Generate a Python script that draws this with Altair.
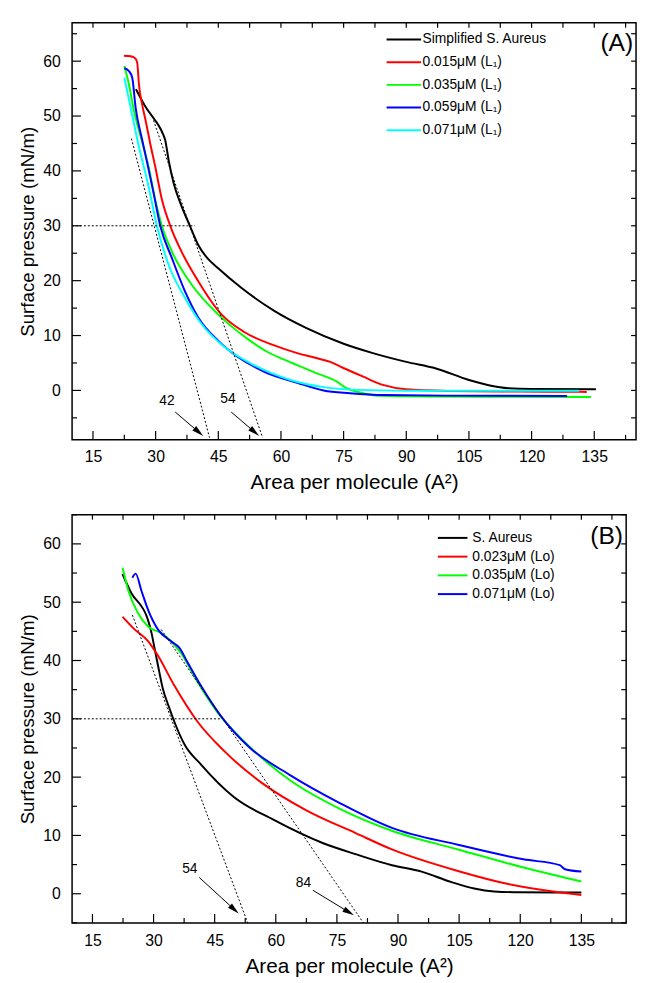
import math
import altair as alt
import pandas as pd

FONT = "Liberation Sans"

# ---------------- Panel A data ----------------
A_labels = ["\u00a0Simplified S. Aureus", "0.015μM (L₁)", "0.035μM (L₁)", "0.059μM (L₁)", "0.071μM (L₁)"]
A_colors = ["#000000", "#ff0000", "#00ff00", "#0000ff", "#00ffff"]

A_black_x = [25.3, 27.5, 29.9, 30.7, 31.6, 32.3, 33.1, 34.3, 36.2, 38.2, 40.2, 42.5, 44.9, 50.5, 58.4, 66.0, 75.0, 82.0, 90.0, 97.1, 105.0, 110.0, 114.4, 120.0, 135.4]
A_black_y = [54.9, 51.8, 49.2, 48.3, 47.0, 45.6, 42.0, 37.8, 33.6, 30.0, 26.5, 24.0, 22.3, 18.7, 14.5, 11.4, 8.5, 6.8, 5.2, 4.0, 1.9, 0.9, 0.4, 0.25, 0.2]

A_red_x = [22.4, 24.0, 24.8, 25.3, 25.6, 26.0, 26.8, 27.6, 28.7, 29.9, 31.5, 33.5, 36.2, 40.2, 45.7, 51.3, 58.4, 63.9, 68.0, 71.8, 75.5, 79.7, 84.4, 90.0, 100.0, 115.0, 131.4, 133.2]
A_red_y = [61.0, 60.9, 60.7, 60.3, 59.7, 55.8, 52.0, 49.2, 45.0, 40.8, 34.8, 30.0, 25.3, 19.9, 13.9, 10.6, 8.2, 6.8, 6.0, 5.2, 3.9, 2.5, 1.0, 0.2, -0.1, -0.2, -0.25, -0.3]

A_green_x = [22.5, 23.6, 24.8, 26.5, 28.3, 29.9, 31.5, 33.9, 38.6, 44.9, 52.0, 56.8, 60.5, 63.9, 68.6, 73.4, 75.7, 78.5, 83.6, 95.0, 110.0, 134.2]
A_green_y = [59.1, 55.8, 51.0, 46.0, 40.8, 34.8, 30.0, 25.3, 19.3, 13.9, 9.4, 7.0, 5.7, 4.6, 3.1, 1.6, 0.4, -0.3, -0.97, -1.1, -1.15, -1.2]

A_blue_x = [22.5, 23.6, 24.4, 25.2, 26.8, 28.0, 29.5, 31.1, 33.9, 37.0, 40.2, 44.9, 49.7, 56.0, 63.9, 70.2, 76.5, 85.0, 100.0, 128.5]
A_blue_y = [58.7, 58.2, 57.0, 51.6, 45.6, 41.4, 36.0, 30.0, 24.1, 18.1, 13.3, 9.1, 6.1, 3.4, 1.4, 0.0, -0.5, -0.85, -0.95, -1.0]

A_cyan_x = [22.5, 24.0, 26.0, 28.3, 30.3, 33.1, 37.0, 41.0, 46.5, 52.8, 62.3, 70.2, 78.1, 90.0, 110.0, 131.4]
A_cyan_y = [57.0, 51.6, 44.4, 37.2, 30.0, 22.9, 16.9, 12.1, 7.9, 4.9, 1.9, 0.6, 0.1, -0.05, -0.07, -0.07]

A_hline = [10, 39.4, 30]                      # x0, x1, y
A_tangents = [[24.2, 45.9, 42.9, -8.6], [29.5, 49.2, 55.6, -8.6]]   # x0, y0, x1, y1
A_arrow_text = ["42", "54"]
A_arrow_text_xy = [[32.7, -2.0], [47.3, -1.6]]
A_arrows = [[34.7, -3.95, 41.4, -8.3], [48.1, -3.95, 54.8, -8.3]]
A_tag = ["(A)", 140.4, 63.3]

# ---------------- Panel B data ----------------
B_labels = ["S. Aureus", "0.023μM (Lo)", "0.035μM (Lo)", "0.071μM (Lo)"]
B_colors = ["#000000", "#ff0000", "#00ff00", "#0000ff"]

B_black_x = [22.4, 24.6, 27.4, 28.2, 29.5, 30.3, 31.1, 32.3, 33.9, 35.1, 37.6, 41.6, 49.7, 59.4, 71.5, 80.0, 88.5, 95.8, 103.1, 108.7, 113.6, 120.0, 135.0]
B_black_y = [54.8, 51.5, 48.9, 47.8, 44.7, 41.9, 39.1, 35.1, 31.8, 29.5, 25.6, 22.2, 16.6, 12.7, 8.7, 6.7, 4.9, 3.8, 2.0, 0.9, 0.4, 0.25, 0.2]

B_red_x = [22.4, 25.4, 28.7, 31.1, 35.1, 40.8, 47.3, 57.0, 67.5, 79.6, 88.5, 104.7, 116.8, 129.0, 135.0]
B_red_y = [47.5, 45.3, 43.3, 40.8, 35.7, 29.5, 24.5, 18.8, 14.3, 10.4, 7.6, 3.9, 1.7, 0.3, -0.2]

B_green_x = [22.4, 23.8, 26.2, 28.7, 31.9, 34.3, 36.7, 40.8, 45.6, 52.1, 63.4, 75.6, 88.5, 104.7, 120.8, 135.0]
B_green_y = [55.9, 52.0, 48.1, 45.8, 44.7, 43.3, 41.3, 36.3, 31.2, 26.2, 19.5, 14.6, 10.8, 7.6, 4.5, 2.1]

B_blue_x = [24.8, 25.6, 27.0, 28.7, 31.1, 34.3, 36.3, 38.4, 41.6, 46.4, 53.7, 63.4, 75.6, 88.5, 104.7, 120.8, 129.7, 131.0, 135.0]
B_blue_y = [54.2, 54.9, 52.0, 48.6, 45.3, 43.3, 42.2, 39.6, 35.7, 30.6, 25.0, 20.4, 15.6, 11.3, 8.4, 5.9, 4.9, 4.2, 3.8]

B_hline = [10, 46.4, 30]
B_tangents = [[24.8, 47.8, 53.1, -5.0], [31.9, 45.3, 81.5, -5.0]]
B_arrow_text = ["54", "84"]
B_arrow_text_xy = [[38.9, 4.2], [66.8, 1.8]]
B_arrows = [[41.2, 2.8, 50.9, -3.4], [69.1, 0.6, 79.2, -3.7]]
B_tag = ["(B)", 141.2, 61.3]

X_MAJOR = [15, 30, 45, 60, 75, 90, 105, 120, 135]
X_MINOR = [22.5, 37.5, 52.5, 67.5, 82.5, 97.5, 112.5, 127.5, 142.5]
Y_MAJOR = [0, 10, 20, 30, 40, 50, 60]
Y_MINOR = [-5, 5, 15, 25, 35, 45, 55, 65]


def panel(xs_list, ys_list, labels, colors, xdom, ydom, W, H, hline, tangents,
          arrow_text, arrow_text_xy, arrows, tag, leg, x_lab_pad):
    rows = []
    for s, (xs, ys) in enumerate(zip(xs_list, ys_list)):
        for i, (x, y) in enumerate(zip(xs, ys)):
            rows.append(dict(x=x, y=y, series=labels[s], i=i))
    df = pd.DataFrame(rows)

    xsc = alt.Scale(domain=xdom, nice=False, zero=False)
    ysc = alt.Scale(domain=ydom, nice=False, zero=False)
    xaxis = alt.Axis(values=X_MAJOR, title="Area per molecule (A²)", ticks=False, domain=False,
                     grid=False, labelFontSize=16, labelPadding=x_lab_pad, titleFontSize=21,
                     titlePadding=7, labelFont=FONT, titleFont=FONT, titleFontWeight="normal",
                     labelColor="black", titleColor="black", labelFlush=False)
    yaxis = alt.Axis(values=Y_MAJOR, title="Surface pressure (mN/m)", ticks=False, domain=False,
                     grid=False, labelFontSize=16, labelPadding=12, titleFontSize=19,
                     titlePadding=5, labelFont=FONT, titleFont=FONT, titleFontWeight="normal",
                     labelColor="black", titleColor="black", labelFlush=False)

    def X(field):
        return alt.X(field, scale=xsc, axis=xaxis)

    def Y(field):
        return alt.Y(field, scale=ysc, axis=yaxis)

    # legend: the row pitch follows the nominal symbol size; the drawn line is
    # longer by the factor k of the custom path
    line_len, nominal, leg_x, leg_y, lab_off = leg
    k = line_len / nominal
    legend = alt.Legend(orient="none", legendX=leg_x, legendY=leg_y, title=None,
                        symbolType=f"M{-k:.4f},0L{k:.4f},0", symbolSize=nominal ** 2,
                        symbolStrokeWidth=2, labelFontSize=14, labelFont=FONT,
                        labelColor="black", rowPadding=0, labelOffset=lab_off,
                        padding=0, labelLimit=400)

    lines = alt.Chart(df).mark_line(strokeWidth=2, interpolate="monotone").encode(
        x=X("x:Q"),
        y=Y("y:Q"),
        color=alt.Color("series:N", scale=alt.Scale(domain=labels, range=colors), legend=legend),
        order=alt.Order("i:Q"),
    )

    layers = []

    def xt(vals, length, top=False):
        d = pd.DataFrame({"x": vals})
        if top:
            enc = dict(y=alt.value(0), y2=alt.value(length))
        else:
            enc = dict(y=alt.value(H), y2=alt.value(H - length))
        return alt.Chart(d).mark_rule(color="black", strokeWidth=1.2).encode(x=X("x:Q"), **enc)

    def yt(vals, length, right=False):
        d = pd.DataFrame({"y": vals})
        if right:
            enc = dict(x=alt.value(W), x2=alt.value(W - length))
        else:
            enc = dict(x=alt.value(0), x2=alt.value(length))
        return alt.Chart(d).mark_rule(color="black", strokeWidth=1.2).encode(y=Y("y:Q"), **enc)

    layers += [xt(X_MAJOR, 9), xt(X_MINOR, 5), xt(X_MAJOR + X_MINOR, 5, top=True),
               yt(Y_MAJOR, 9), yt(Y_MINOR, 5), yt(Y_MAJOR + Y_MINOR, 5, right=True)]

    # dotted guides
    seg = pd.DataFrame(
        [dict(x=hline[0], y=hline[2], x1=hline[1], y1=hline[2])] +
        [dict(x=t[0], y=t[1], x1=t[2], y1=t[3]) for t in tangents])
    dotted = alt.Chart(seg).mark_rule(color="black", strokeWidth=1, strokeDash=[2, 2], clip=True).encode(
        x=X("x:Q"), y=Y("y:Q"), x2="x1:Q", y2="y1:Q")

    # arrows
    kx = W / (xdom[1] - xdom[0])
    ky = H / (ydom[1] - ydom[0])
    s = 12.0
    arr_rows, head_rows = [], []
    for a in arrows:
        x0, y0, x1, y1 = a
        dxp = (x1 - x0) * kx
        dyp = -(y1 - y0) * ky
        L = math.hypot(dxp, dyp)
        ux, uy = dxp / L, dyp / L
        ang = math.degrees(math.atan2(ux, -uy)) % 360
        cx = x1 - (s / 2) * ux / kx
        cy = y1 + (s / 2) * uy / ky
        ex = x1 - s * 0.8 * ux / kx
        ey = y1 + s * 0.8 * uy / ky
        arr_rows.append(dict(x=x0, y=y0, x1=ex, y1=ey))
        head_rows.append(dict(x=cx, y=cy, ang=ang))
    arr = alt.Chart(pd.DataFrame(arr_rows)).mark_rule(color="black", strokeWidth=1).encode(
        x=X("x:Q"), y=Y("y:Q"), x2="x1:Q", y2="y1:Q")
    heads = alt.Chart(pd.DataFrame(head_rows)).mark_point(
        shape="M0,-1L0.5,1L-0.5,1Z", filled=True, color="black", opacity=1, size=s * s).encode(
        x=X("x:Q"), y=Y("y:Q"), angle=alt.Angle("ang:Q", scale=None))

    tdf = pd.DataFrame({"t": arrow_text, "x": [p[0] for p in arrow_text_xy],
                        "y": [p[1] for p in arrow_text_xy]})
    atext = alt.Chart(tdf).mark_text(font=FONT, fontSize=14, color="black").encode(
        x=X("x:Q"), y=Y("y:Q"), text="t:N")

    tagdf = pd.DataFrame({"t": [tag[0]], "x": [tag[1]], "y": [tag[2]]})
    tagtext = alt.Chart(tagdf).mark_text(font=FONT, fontSize=25, color="black").encode(
        x=X("x:Q"), y=Y("y:Q"), text="t:N")

    return alt.layer(lines, *layers, dotted, arr, heads, atext, tagtext).properties(width=W, height=H)


pA = panel([A_black_x, A_red_x, A_green_x, A_blue_x, A_cyan_x],
           [A_black_y, A_red_y, A_green_y, A_blue_y, A_cyan_y],
           A_labels, A_colors, [10, 145], [-9, 67], 572, 423,
           A_hline, A_tangents, A_arrow_text, A_arrow_text_xy, A_arrows, A_tag,
           (35, 30, 320.5, 1, 3), 9)

pB = panel([B_black_x, B_red_x, B_green_x, B_blue_x],
           [B_black_y, B_red_y, B_green_y, B_blue_y],
           B_labels, B_colors, [10, 146], [-5, 65], 562, 414,
           B_hline, B_tangents, B_arrow_text, B_arrow_text_xy, B_arrows, B_tag,
           (30, 22, 374, 11.5, 8), 10)

chart = alt.vconcat(pA, pB, spacing=20).resolve_scale(
    x="independent", y="independent", color="independent"
).resolve_legend(color="independent").configure_view(
    stroke="black", strokeWidth=1.5
).properties(padding={"left": 10, "top": 6, "right": 0, "bottom": 0})

chart.save("out.html", embed_options={"renderer": "svg", "actions": False})
